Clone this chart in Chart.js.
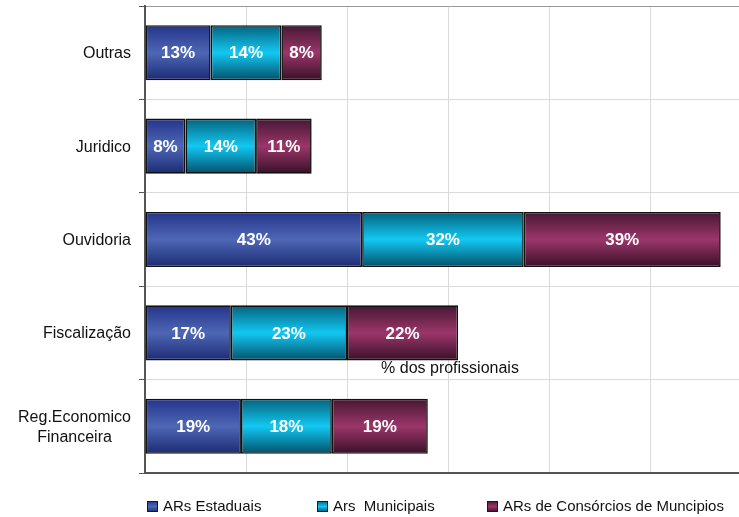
<!DOCTYPE html>
<html>
<head>
<meta charset="utf-8">
<script src="https://cdn.jsdelivr.net/npm/chart.js@4/dist/chart.umd.min.js"></script>
<style>
  html, body { margin: 0; padding: 0; overflow: hidden; background: #fff; width: 739px; height: 517px; }
  #wrap { position: relative; width: 760px; height: 517px; }
</style>
</head>
<body>
<div id="wrap"><canvas id="c" width="760" height="517"></canvas></div>
<script>
// Categories (top to bottom) and the three series, in % of professionals
const categories = ['Outras', 'Juridico', 'Ouvidoria', 'Fiscalização', ['Reg.Economico', 'Financeira']];
const seriesNames = ['ARs Estaduais', 'Ars  Municipais', 'ARs de Consórcios de Muncipios'];
const estaduais  = [13, 8, 43, 17, 19];
const municipais = [14, 14, 32, 23, 18];
const consorcios = [8, 11, 39, 22, 19];
const axisTitle = '% dos profissionais';
const xMax = 120;
const xStep = 20;

const FONT = '"Liberation Sans", Arial, Helvetica, sans-serif';
const BAR_FRACTION = 0.59;

// dark edge / bright centre / dark edge
const shades = [
  ['#24348a', '#4e67b5', '#1c2b74'],
  ['#05627c', '#12c8f2', '#04506a'],
  ['#461732', '#9b366a', '#381027']
];

function cylinder(stops) {
  return (ctx) => {
    const chart = ctx.chart;
    const y = chart.scales && chart.scales.y;
    if (!y || ctx.type !== 'data' || y.top === undefined) return stops[1];
    const c = y.getPixelForValue(ctx.dataIndex);
    const half = (y.bottom - y.top) / categories.length * BAR_FRACTION / 2;
    const g = chart.ctx.createLinearGradient(0, c - half, 0, c + half);
    g.addColorStop(0, stops[0]);
    g.addColorStop(0.5, stops[1]);
    g.addColorStop(1, stops[2]);
    return g;
  };
}

const valueLabels = {
  id: 'valueLabels',
  afterDatasetsDraw(chart) {
    const ctx = chart.ctx;
    ctx.save();
    ctx.font = 'bold 17px ' + FONT;
    ctx.fillStyle = '#ffffff';
    ctx.textAlign = 'center';
    ctx.textBaseline = 'middle';
    chart.data.datasets.forEach((ds, i) => {
      chart.getDatasetMeta(i).data.forEach((el, j) => {
        const p = el.getCenterPoint();
        ctx.fillText(ds.data[j] + '%', p.x, p.y + 1);
      });
    });
    ctx.restore();
  }
};

const sideText = {
  id: 'sideText',
  afterDraw(chart) {
    const ctx = chart.ctx;
    const area = chart.chartArea;
    const y = chart.scales.y;
    ctx.save();
    // category names: right-aligned block, multi-line names centred within themselves
    ctx.font = '16px ' + FONT;
    ctx.fillStyle = '#111';
    ctx.textAlign = 'center';
    ctx.textBaseline = 'middle';
    categories.forEach((lab, i) => {
      const lines = Array.isArray(lab) ? lab : [lab];
      const w = Math.max(...lines.map(l => ctx.measureText(l).width));
      const cx = area.left - 14 - w / 2;
      const cy = y.getPixelForValue(i);
      lines.forEach((l, k) => ctx.fillText(l, cx, cy + 1 + (k - (lines.length - 1) / 2) * 20));
    });
    // axis title
    ctx.fillText(axisTitle, (area.left + area.right) / 2 + 2, area.bottom - 104);
    // legend
    ctx.font = '15px ' + FONT;
    ctx.textAlign = 'left';
    seriesNames.forEach((name, i) => {
      const x0 = area.left + 2 + i * 170;
      const by = 501;
      const g = ctx.createLinearGradient(0, by, 0, by + 11);
      g.addColorStop(0, shades[i][0]);
      g.addColorStop(0.5, shades[i][1]);
      g.addColorStop(1, shades[i][2]);
      ctx.fillStyle = g;
      ctx.fillRect(x0, by, 11, 11);
      ctx.strokeStyle = '#1a1a1a';
      ctx.lineWidth = 1;
      ctx.strokeRect(x0 + 0.5, by + 0.5, 10, 10);
      ctx.fillStyle = '#111';
      ctx.fillText(name, x0 + 16, by + 6);
    });
    ctx.restore();
  }
};

const seriesData = [estaduais, municipais, consorcios];

new Chart(document.getElementById('c'), {
  type: 'bar',
  data: {
    labels: categories,
    datasets: seriesNames.map((name, i) => ({
      label: name,
      data: seriesData[i],
      backgroundColor: cylinder(shades[i]),
      borderColor: '#111111',
      borderWidth: 1.6,
      borderSkipped: false,
      categoryPercentage: 1,
      barPercentage: BAR_FRACTION
    }))
  },
  options: {
    indexAxis: 'y',
    responsive: false,
    animation: false,
    devicePixelRatio: 1,
    layout: { padding: { top: 6, right: 9, bottom: 44, left: 0 } },
    plugins: {
      legend: { display: false },
      tooltip: { enabled: false }
    },
    scales: {
      x: {
        stacked: true,
        min: 0,
        max: xMax,
        ticks: { display: false, stepSize: xStep },
        grid: { color: '#dadada', lineWidth: 1, drawTicks: false },
        border: { color: '#555', width: 2 },
        afterFit(scale) { scale.height = 0; }
      },
      y: {
        stacked: true,
        ticks: { display: false },
        grid: {
          offset: true,
          color: (ctx) => ctx.index === 0 ? '#9a9a9a' : '#dadada',
          lineWidth: 1,
          drawTicks: true,
          tickLength: 6,
          tickColor: '#555'
        },
        border: { color: '#555', width: 2 },
        afterFit(scale) { scale.width = 145; }
      }
    }
  },
  plugins: [valueLabels, sideText]
});
</script>
</body>
</html>
